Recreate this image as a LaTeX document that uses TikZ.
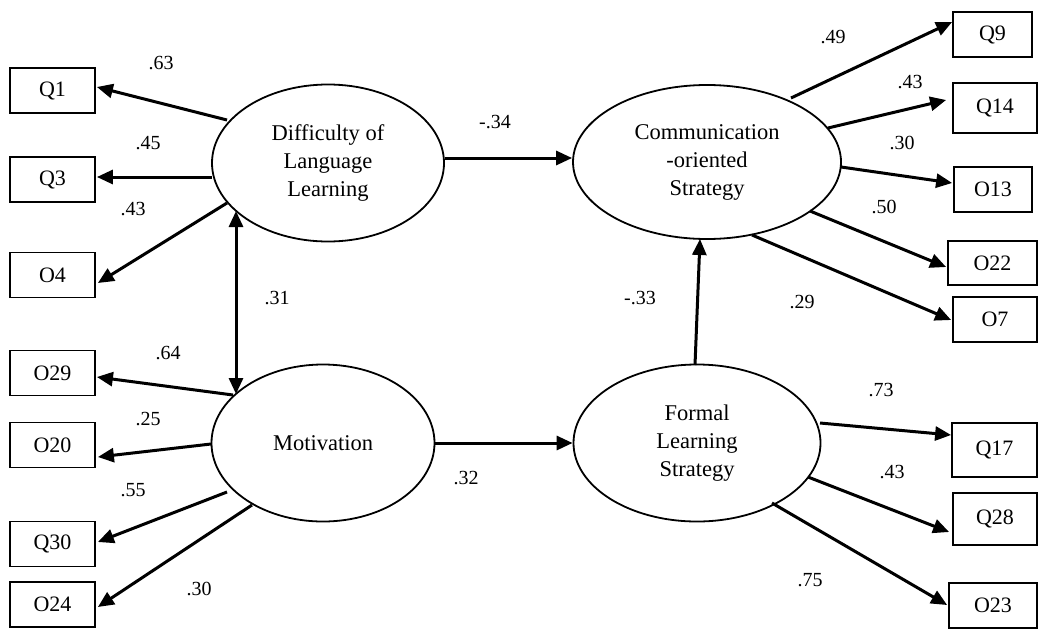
\documentclass[tikz,border=0pt]{standalone}
\usepackage{fontspec}
\setmainfont{Liberation Serif}
\usetikzlibrary{shapes.geometric,arrows.meta,calc}
\tikzset{
  latent/.style={ellipse,draw,line width=1.8pt,inner sep=0pt,align=center,
    font=\fontsize{22.5}{28}\selectfont},
  obs/.style={rectangle,draw,line width=1.8pt,inner sep=0pt,
    font=\fontsize{22}{26}\selectfont},
  path/.style={line width=3pt,-{Triangle[length=16pt,width=14pt]}},
  bipath/.style={line width=3pt,{Triangle[length=16pt,width=14pt]}-{Triangle[length=16pt,width=14pt]}},
  coef/.style={font=\fontsize{20}{24}\selectfont,inner sep=0pt},
  lbox/.style={obs,minimum width=85pt,minimum height=45pt}
}
\begin{document}
\begin{tikzpicture}[x=1pt,y=-1pt]
\useasboundingbox (0,0) rectangle (1040,629);
% latent variables
\node[latent,minimum width=232pt,minimum height=157pt] (diff) at (328,163) {Difficulty of\\Language\\Learning};
\node[latent,minimum width=268pt,minimum height=154pt] (comm) at (707,162) {Communication\\-oriented\\Strategy};
\node[latent,minimum width=223pt,minimum height=157pt] (mot) at (323,443) {Motivation};
\node[latent,minimum width=247pt,minimum height=157pt] (form) at (697,443) {Formal\\Learning\\Strategy};
% left boxes
\node[lbox] (q1) at (52.5,90.5) {Q1};
\node[lbox] (q3) at (52.5,179.5) {Q3};
\node[lbox] (o4) at (52.5,275) {O4};
\node[lbox] (o29) at (52.5,373) {O29};
\node[lbox] (o20) at (52.5,445) {O20};
\node[lbox] (q30) at (52.5,544) {Q30};
\node[lbox] (o24) at (52.5,604.5) {O24};
% right boxes
\node[obs,minimum width=79pt,minimum height=45pt] (q9) at (992.5,34.5) {Q9};
\node[obs,minimum width=84pt,minimum height=50pt] (q14) at (995,108) {Q14};
\node[obs,minimum width=78pt,minimum height=45pt] (o13) at (993,189.5) {O13};
\node[obs,minimum width=89pt,minimum height=44pt] (o22) at (992.5,263) {O22};
\node[obs,minimum width=84pt,minimum height=45pt] (o7) at (995,319.5) {O7};
\node[obs,minimum width=85pt,minimum height=54pt] (q17) at (994.5,450) {Q17};
\node[obs,minimum width=84pt,minimum height=52pt] (q28) at (995,519) {Q28};
\node[obs,minimum width=88pt,minimum height=45pt] (o23) at (993,605.5) {O23};
% structural paths
\draw[path] ($(diff.east)+(0,-5)$) -- ($(comm.west)+(0,-4)$);
\draw[path] (mot.east) -- (form.west);
\draw[path] ($(form.center)+(-2,-78)$) -- ($(comm.center)+(-7,77)$);
\draw[bipath] ($(diff.center)+(-92,48)$) -- ($(mot.center)+(-87,-49)$);
% loadings left
\draw[path] ($(diff.center)+(-101,-43)$) -- ($(q1.east)+(1,-3.5)$);
\draw[path] ($(diff.center)+(-116,14)$) -- ($(q3.east)+(1,-2.5)$);
\draw[path] ($(diff.center)+(-101,40)$) -- ($(o4.east)+(2,8)$);
\draw[path] ($(mot.center)+(-90,-48)$) -- ($(o29.east)+(1,4)$);
\draw[path] ($(mot.center)+(-112,1)$) -- ($(o20.east)+(2,12)$);
\draw[path] ($(mot.center)+(-96,49)$) -- ($(q30.east)+(2,-2)$);
\draw[path] ($(mot.center)+(-71,62)$) -- ($(o24.east)+(2,2.5)$);
% loadings right
\draw[path] ($(comm.center)+(84,-64)$) -- ($(q9.west)+(0,-12.5)$);
\draw[path] ($(comm.center)+(121,-34)$) -- ($(q14.west)+(-6,-8)$);
\draw[path] ($(comm.center)+(134,5)$) -- ($(o13.west)+(-1,-6.5)$);
\draw[path] ($(comm.center)+(103,49)$) -- ($(o22.west)+(-1,4)$);
\draw[path] ($(comm.center)+(45,73)$) -- ($(o7.west)+(-1,0.5)$);
\draw[path] ($(form.center)+(123,-20)$) -- ($(q17.west)+(0,-15)$);
\draw[path] ($(form.center)+(111,34)$) -- ($(q28.west)+(-3,13)$);
\draw[path] ($(form.center)+(75,60)$) -- ($(o23.west)+(-1,-0.5)$);
% coefficients
\node[coef] (c1) at (495,122) {-.34};
\node[coef] (c2) at (640,298) {-.33};
\node[coef] (c3) at (277,298) {.31};
\node[coef] (c4) at (466,478) {.32};
\node[coef] (c5) at (161,63) {.63};
\node[coef] (c6) at (148,143) {.45};
\node[coef] (c7) at (133,209) {.43};
\node[coef] (c8) at (168,353) {.64};
\node[coef] (c9) at (148,419) {.25};
\node[coef] (c10) at (133,490) {.55};
\node[coef] (c11) at (199,589) {.30};
\node[coef] (c12) at (833,37) {.49};
\node[coef] (c13) at (910,82) {.43};
\node[coef] (c14) at (902,143) {.30};
\node[coef] (c15) at (884,207) {.50};
\node[coef] (c16) at (802,302) {.29};
\node[coef] (c17) at (881,390) {.73};
\node[coef] (c18) at (892,472) {.43};
\node[coef] (c19) at (810,580) {.75};
\end{tikzpicture}
\end{document}
